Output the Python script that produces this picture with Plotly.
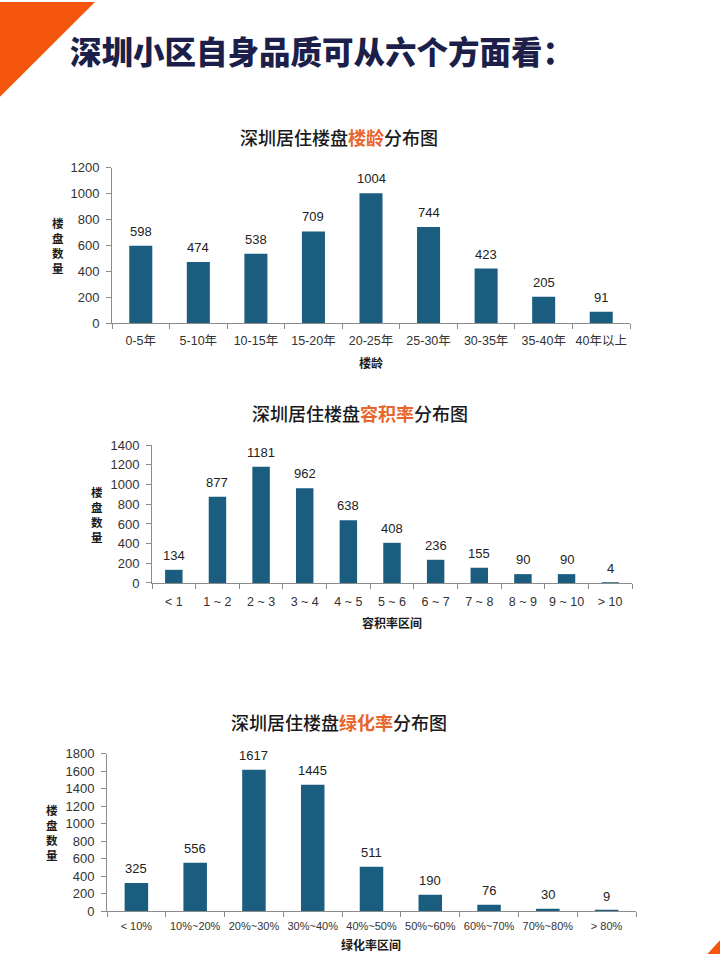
import plotly.graph_objects as go

W, H = 720, 954

# ---------------- data ----------------
age_cats = ["0-5年", "5-10年", "10-15年", "15-20年", "20-25年", "25-30年", "30-35年", "35-40年", "40年以上"]
age_vals = [598, 474, 538, 709, 1004, 744, 423, 205, 91]

far_cats = ["< 1", "1 ~ 2", "2 ~ 3", "3 ~ 4", "4 ~ 5", "5 ~ 6", "6 ~ 7", "7 ~ 8", "8 ~ 9", "9 ~ 10", "> 10"]
far_vals = [134, 877, 1181, 962, 638, 408, 236, 155, 90, 90, 4]

green_cats = ["< 10%", "10%~20%", "20%~30%", "30%~40%", "40%~50%", "50%~60%", "60%~70%", "70%~80%", "> 80%"]
green_vals = [325, 556, 1617, 1445, 511, 190, 76, 30, 9]

main_title = "深圳小区自身品质可从六个方面看："
chart_titles = [("深圳居住楼盘", "楼龄", "分布图"),
                ("深圳居住楼盘", "容积率", "分布图"),
                ("深圳居住楼盘", "绿化率", "分布图")]
x_titles = ["楼龄", "容积率区间", "绿化率区间"]
y_title = "楼盘数量"
y_ticks = [[0, 200, 400, 600, 800, 1000, 1200],
           [0, 200, 400, 600, 800, 1000, 1200, 1400],
           [0, 200, 400, 600, 800, 1000, 1200, 1400, 1600, 1800]]

# ---------------- styling ----------------
BAR = "#1b5d7f"
ORANGE = "#e8662c"
LATIN = "Arial, 'Liberation Sans', 'Noto Sans CJK SC', sans-serif"
CJK = "'Noto Sans CJK SC', 'Microsoft YaHei', sans-serif"
AXIS = "#8c8c8c"


def px_x(p):
    return p / W


def px_y(p):
    # screen-pixel target -> paper fraction (compensates the observed vertical mapping)
    f = (p - 5) / 0.986
    return 1 - f / H


panels = [
    dict(cats=age_cats, vals=age_vals, x0=112, x1=630, yt=166, yb=322, ymax=1200,
         ty=135, tcx=339, xty=361, ytx=58, ytcy=244, tf=12.5, so=6),
    dict(cats=far_cats, vals=far_vals, x0=152, x1=632, yt=444, yb=582, ymax=1400,
         ty=412, tcx=360, xty=622, ytx=97, ytcy=513, tf=12.5, so=7),
    dict(cats=green_cats, vals=green_vals, x0=107, x1=636, yt=753, yb=911, ymax=1800,
         ty=721, tcx=339, xty=944, ytx=52, ytcy=832, tf=11, so=4),
]

fig = go.Figure()
annotations = []
layout_axes = {}

for i, p in enumerate(panels):
    n = i + 1
    xa = "x" if n == 1 else f"x{n}"
    ya = "y" if n == 1 else f"y{n}"
    fig.add_trace(go.Bar(
        x=p["cats"], y=p["vals"], xaxis=xa, yaxis=ya,
        marker=dict(color=BAR, line=dict(width=0)),
        width=0.4, showlegend=False, hoverinfo="x+y",
    ))
    xkey = "xaxis" if n == 1 else f"xaxis{n}"
    ykey = "yaxis" if n == 1 else f"yaxis{n}"
    layout_axes[xkey] = dict(
        domain=[px_x(p["x0"]), px_x(p["x1"])], anchor=ya,
        type="category", categoryorder="array", categoryarray=p["cats"],
        showline=True, linecolor=AXIS, linewidth=1,
        ticks="outside", tickson="boundaries", ticklen=5, tickcolor=AXIS,
        showgrid=False, zeroline=False, tickangle=0, ticklabelstandoff=p["so"],
        tickfont=dict(family=LATIN, size=p["tf"], color="#333333"),
        range=[-0.5, len(p["cats"]) - 0.5],
    )
    layout_axes[ykey] = dict(
        domain=[px_y(p["yb"]), px_y(p["yt"])], anchor=xa,
        range=[0, p["ymax"]], tickvals=y_ticks[i],
        showline=True, linecolor=AXIS, linewidth=1,
        ticks="outside", ticklen=5, tickcolor=AXIS, ticklabelstandoff=4,
        showgrid=False, zeroline=False,
        tickfont=dict(family=LATIN, size=13, color="#333333"),
    )
    for c, v in zip(p["cats"], p["vals"]):
        annotations.append(dict(
            x=c, y=v, xref=xa, yref=ya, text=str(v), showarrow=False,
            yanchor="bottom", yshift=5,
            font=dict(family=LATIN, size=13, color="#222222"),
        ))
    a, b, c2 = chart_titles[i]
    annotations.append(dict(
        x=px_x(p["tcx"]), y=px_y(p["ty"]), xref="paper", yref="paper",
        text=f"{a}<span style='color:{ORANGE}'><b>{b}</b></span>{c2}",
        showarrow=False, xanchor="center", yanchor="middle",
        font=dict(family=CJK, size=18, color="#1a1a1a", weight=500),
    ))
    annotations.append(dict(
        x=(px_x(p["x0"]) + px_x(p["x1"])) / 2, y=px_y(p["xty"]), xref="paper", yref="paper",
        text=f"<b>{x_titles[i]}</b>", showarrow=False, xanchor="center", yanchor="middle",
        font=dict(family=CJK, size=12, color="#1a1a1a"),
    ))
    annotations.append(dict(
        x=px_x(p["ytx"]), y=px_y(p["ytcy"]), xref="paper", yref="paper",
        text="<b>" + "<br>".join(y_title) + "</b>", showarrow=False,
        xanchor="center", yanchor="middle",
        font=dict(family=CJK, size=11.5, color="#1a1a1a"),
    ))

annotations.append(dict(
    x=px_x(68), y=px_y(48), xref="paper", yref="paper",
    text=main_title, showarrow=False, xanchor="left", yanchor="middle",
    font=dict(family=CJK, size=31.5, color="#1c1f4a", weight=900),
))

shapes = [
    dict(type="path", xref="paper", yref="paper",
         path=f"M 0,{px_y(0)} L {px_x(95)},{px_y(0)} L 0,{px_y(95)} Z",
         fillcolor="#f4560d", line=dict(width=0), layer="below"),
    dict(type="path", xref="paper", yref="paper",
         path=f"M {px_x(707)},{px_y(954)} L 1,{px_y(954)} L 1,{px_y(940)} Z",
         fillcolor="#f4560d", line=dict(width=0), layer="below"),
]

fig.update_layout(
    width=W, height=H,
    margin=dict(l=0, r=0, t=0, b=0),
    paper_bgcolor="white", plot_bgcolor="white",
    annotations=annotations, shapes=shapes,
    bargap=0.6,
    **layout_axes,
)

fig.write_html(
    "out.html",
    config={"displayModeBar": False},
    post_script=(
        "var gd=document.getElementById('{plot_id}');"
        "gd.style.position='fixed';gd.style.top='0px';gd.style.left='0px';"
        "document.body.style.margin='0';document.body.style.overflow='hidden';"
        "document.documentElement.style.overflow='hidden';"
    ),
)
